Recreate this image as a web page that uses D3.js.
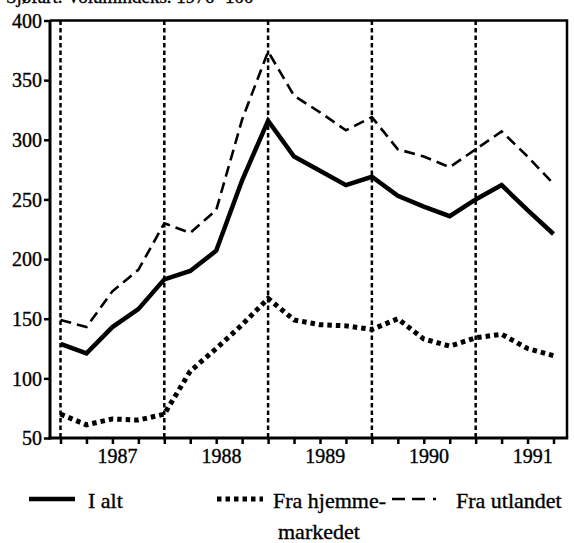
<!DOCTYPE html>
<html>
<head>
<meta charset="utf-8">
<script src="https://cdn.jsdelivr.net/npm/d3@7"></script>
<style>
  body { margin: 0; background: #fff; }
  text { font-family: "Liberation Serif", "DejaVu Serif", serif; fill: #000; stroke: #000; stroke-width: 0.35px; }
</style>
</head>
<body>
<svg class="graph"></svg>
<script>
// quarterly index values, 20 quarters
let quarters = ['86K4','87K1','87K2','87K3','87K4','88K1','88K2','88K3','88K4','89K1',
                '89K2','89K3','89K4','90K1','90K2','90K3','90K4','91K1','91K2','91K3']
let ialt = [129,121,143,158,183,190,207,266,316,286,274,262,269,253,244,236,250,262,241,221]
let hjemme = [70,61,66,65,70,106,125,145,167,149,145,144,141,150,133,127,134,137,125,119]
let utland = [149,143,173,191,230,222,241,317,374,337,323,308,319,292,286,277,292,307,286,263]
let yearLabels = ['1987','1988','1989','1990','1991']
let yTicks = [50,100,150,200,250,300,350,400]
let legendNames = ['I alt','Fra hjemme-','Fra utlandet']

let W = 574, H = 543
let svg = d3.select('.graph').attr('width', W).attr('height', H)

let xscale = d3.scaleLinear().domain([-0.405, 19.52]).range([50, 567])
let yscale = d3.scaleLinear().domain([50, 400]).range([438, 20.5])

// heading, cut off at the top edge as in the scan
svg.append('text').attr('x', 6).attr('y', 3)
   .style('font-size', '19px')
   .text('Sjøfart. Volumindeks. 1976=100')

// frame: top and right
svg.append('path')
   .attr('d', `M${xscale.range()[0]},${yscale(400)}H${xscale.range()[1]}V${yscale(50)}`)
   .attr('fill', 'none').attr('stroke', '#000').attr('stroke-width', 2.5)

// vertical dotted year separators
svg.selectAll('.sep')
   .data(d3.range(0, quarters.length, 4))
   .join('line')
   .attr('class', 'sep')
   .attr('x1', d => xscale(d)).attr('x2', d => xscale(d))
   .attr('y1', yscale(400)).attr('y2', yscale(50))
   .attr('stroke', '#000').attr('stroke-width', 2.5)
   .attr('stroke-dasharray', '4.5,3')

// axes
let yaxis = svg.append('g').attr('transform', `translate(${xscale.range()[0]},0)`)
   .call(d3.axisLeft(yscale).tickValues(yTicks).tickSize(6).tickPadding(2))
let xaxis = svg.append('g').attr('transform', `translate(0,${yscale(50)})`)
   .call(d3.axisBottom(xscale).tickValues(d3.range(quarters.length)).tickSize(6).tickFormat(''))

;[yaxis, xaxis].forEach(a => {
  a.select('.domain').attr('stroke-width', 3).attr('d', a === yaxis
      ? `M0,${yscale(400)}V${yscale(50) + 1.5}` : `M${xscale.range()[0] - 1.5},0H${xscale.range()[1] + 1.2}`)
  a.selectAll('.tick line').attr('stroke-width', 2.5)
})
yaxis.selectAll('.tick text').style('font-size', '20px').attr('dy', '0.34em')

svg.selectAll('.year')
   .data(yearLabels)
   .join('text')
   .attr('class', 'year')
   .attr('x', (d, i) => xscale(2.2 + 4 * i))
   .attr('y', 463)
   .attr('text-anchor', 'middle')
   .style('font-size', '20px')
   .text(d => d)

// series
let line = d3.line().x((d, i) => xscale(i)).y(d => yscale(d))
let series = [
  {name: legendNames[0], values: ialt, width: 4.5, dash: null},
  {name: legendNames[1], values: hjemme, width: 5, dash: '4.5,4'},
  {name: legendNames[2], values: utland, width: 2.6, dash: '11,6'}
]
svg.selectAll('.serie')
   .data(series)
   .join('path')
   .attr('class', 'serie')
   .attr('d', d => line(d.values))
   .attr('fill', 'none')
   .attr('stroke', '#000')
   .attr('stroke-width', d => d.width)
   .attr('stroke-dasharray', d => d.dash)
   .attr('stroke-linejoin', 'miter')

// legend
let lgd = [
  {x1: 29, x2: 75, tx: 88, w: 4.5, dash: null},
  {x1: 217, x2: 263, tx: 273, w: 5, dash: '4.5,4'},
  {x1: 392, x2: 444, tx: 456, w: 2.6, dash: '13,7,13,8,3'}
]
lgd.forEach((l, i) => {
  svg.append('line')
     .attr('x1', l.x1).attr('x2', l.x2).attr('y1', 499).attr('y2', 499)
     .attr('stroke', '#000').attr('stroke-width', l.w)
     .attr('stroke-dasharray', l.dash)
  svg.append('text').attr('x', l.tx).attr('y', 508)
     .style('font-size', '22px')
     .text(legendNames[i])
})
svg.append('text').attr('x', 278).attr('y', 539)
   .style('font-size', '22px')
   .text('markedet')
</script>
</body>
</html>
